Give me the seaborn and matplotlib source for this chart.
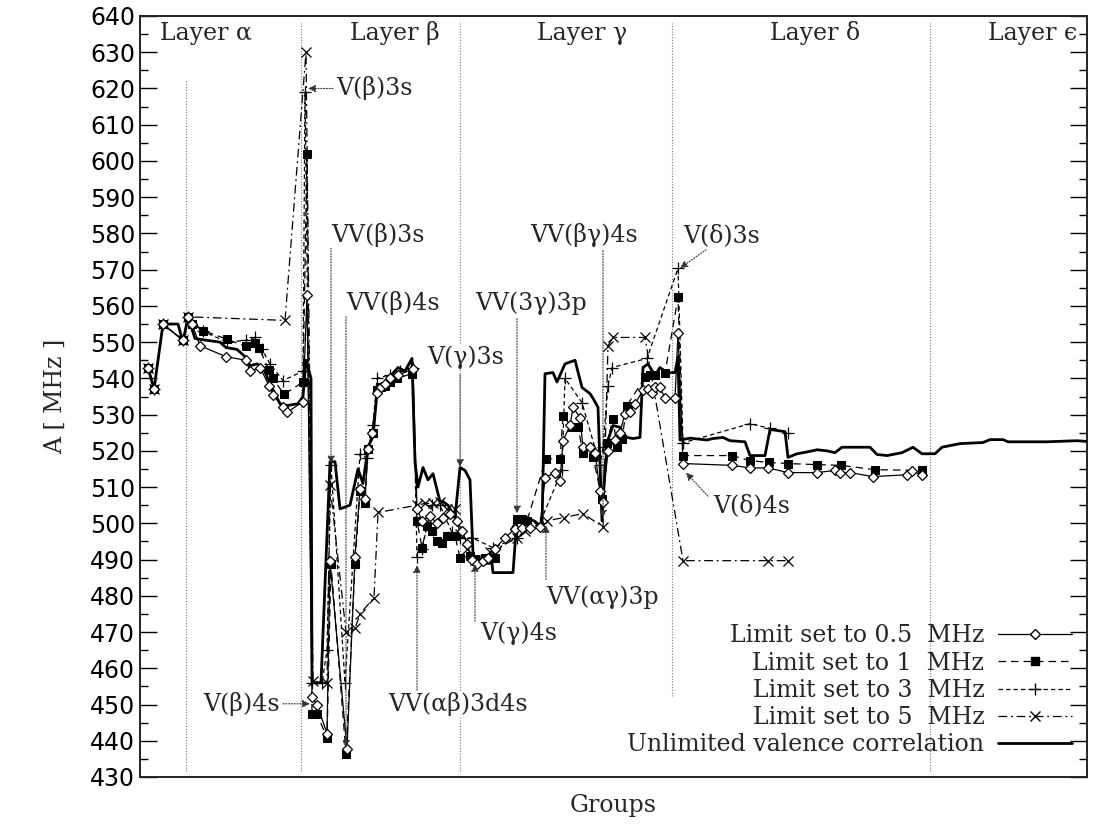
import matplotlib
matplotlib.use("Agg")
import matplotlib.pyplot as plt
from matplotlib.ticker import MultipleLocator
from matplotlib.lines import Line2D
import seaborn as sns

# ---------------- data (group position, hyperfine constant A in MHz) -------------
x_half = [148, 154, 163, 183, 188, 192, 200, 226, 246, 250, 260, 269, 273, 283, 287, 303, 307,
          312, 317, 327, 330, 347, 355, 360, 365, 368, 372, 377, 381, 385, 390, 398, 413,
          417, 422, 430, 437, 443, 450, 457, 462, 467, 472, 477, 483, 488, 495, 505, 515, 522,
          530, 540, 545, 555, 560, 563, 570, 573, 580, 583, 590, 595, 600, 603, 608, 615, 620,
          625, 630, 635, 643, 648, 652, 655, 660, 665, 675, 678, 683, 732, 750, 768, 788, 817,
          835, 840, 850, 873, 907, 912, 922]
y_half = [543, 537, 555, 550.5, 557, 555, 549, 546, 545, 542, 543, 538, 535.5, 532, 530.6, 533.6, 563,
          452, 450, 442, 489.5, 437.7, 490.8, 509.6, 506.8, 520.6, 525, 536, 537.5, 538.5, 540, 541, 542.5,
          504, 500.7, 502, 500, 501.6, 502.7, 500.7, 498, 494.4, 490, 488.9, 489.7, 490.5, 493, 496, 498.5, 498.6,
          498.6, 499, 512.6, 514, 511.8, 522.8, 527, 532, 529.2, 521, 521, 519.5, 509, 506, 520, 523, 525,
          530.3, 530.6, 533, 536.7, 537.2, 536.1, 537.5, 537.5, 534.5, 534.5, 552.4, 516.5, 516, 515.3, 515.3, 514, 514,
          514.6, 514, 514, 512.9, 513.4, 514.5, 513.2]

x_one = [148, 154, 163, 183, 188, 192, 203, 227, 246, 255, 259, 269, 273, 284, 303, 307,
         312, 317, 327, 331, 346, 355, 360, 365, 368, 373, 377, 381, 385, 390, 397, 412,
         417, 422, 427, 432, 437, 442, 447, 455, 460, 470, 475, 485, 495, 517, 522, 527,
         546, 560, 563, 572, 578, 583, 593, 602, 607, 613, 617, 622, 627, 645, 650, 655, 665,
         678, 683, 732, 750, 769, 788, 817, 841, 875, 922]
y_one = [543, 537, 555, 550.5, 557, 555, 553.2, 550.8, 548.8, 549.7, 548.5, 542.2, 540, 535.6, 539, 602,
         447.4, 447.4, 440.8, 488.8, 436.4, 488.8, 509, 505.6, 520.6, 525, 536.7, 537.5, 538, 539, 540, 541.3,
         500.7, 493.3, 499.3, 498, 495, 494.7, 496.6, 496.6, 490.5, 491, 490.2, 490.5, 490.5, 501.3, 501.3, 500.7,
         517.8, 517.8, 529.7, 526.5, 526.5, 519.5, 518.2, 506.8, 522.3, 528.9, 521, 523.4, 532.5, 540.3, 540.8, 540.8, 541.4,
         562.4, 518.7, 518.7, 517.3, 516.8, 516.5, 516.2, 516, 514.8, 514.6]

x_three = [148, 154, 163, 183, 188, 203, 227, 246, 255, 262, 270, 283, 303, 305,
           312, 322, 327, 331, 345, 360, 367, 373, 377, 390, 400, 413,
           417, 422, 432, 440, 452, 460, 472, 493, 517, 540, 562, 565, 582, 600, 603,
           608, 612, 647, 678, 683, 750, 770, 788]
y_three = [543, 537, 555, 550.5, 557, 553, 550, 550.5, 551.3, 548, 544, 539.4, 542, 619,
           456, 456, 465, 516, 456, 519.2, 518, 527, 540, 541, 542, 543,
           490.8, 493, 505, 505, 497.5, 496, 496, 493.3, 496, 500.2, 514.6, 540, 533.3, 516, 521,
           538, 543, 545.5, 570.4, 522.2, 527.5, 526.2, 524.8]

x_five = [148, 154, 163, 183, 188, 285, 306, 313, 327, 330, 346, 355, 360, 374, 378,
          417, 425, 433, 440, 447, 455, 460, 467, 475, 490, 517, 525, 547, 564, 583, 603,
          608, 613, 645, 683, 768, 788]
y_five = [543, 537, 555, 550.5, 557, 556, 630, 456.5, 456, 510.5, 470, 471, 475, 479.5, 503,
          505, 505.5, 505.5, 506, 504, 504, 497, 493, 490, 492, 496, 498, 500.7, 501.6, 502.7, 499,
          549, 551.3, 551.3, 489.7, 489.7, 489.7]

x_full = [148, 154, 163, 178, 183, 188, 195, 207, 220, 226, 237, 245, 250, 257, 263, 270, 280, 287,
          298, 303, 306, 311, 312, 321, 330, 335, 340, 350, 358, 363, 368, 373, 377, 390, 398, 405,
          412, 415, 418, 423, 428, 433, 440, 443, 448, 455, 460, 465, 470, 473, 475, 492, 493, 513,
          517, 527, 535, 542, 545, 553, 557, 565, 575, 582, 590, 593, 598, 602, 605, 608, 613, 620,
          623, 627, 633, 640, 643, 648, 655, 660, 667, 675, 678, 680, 690, 707, 713, 723, 730, 745,
          750, 765, 770, 780, 785, 788, 797, 807, 817, 827, 835, 842, 870, 877, 887, 902, 913, 922,
          935, 942, 960, 983, 990, 1003, 1008, 1047, 1077, 1087]
y_full = [543, 537, 555, 555, 550, 557, 551, 550.5, 550, 548.5, 548, 546, 543.5, 544, 543, 538.5, 533, 532.5,
          533, 535, 545, 540, 456, 456, 517, 517, 504, 505, 515, 511, 521, 524, 536, 540.5, 543, 542,
          545.5, 517, 510, 515.4, 512, 513.7, 506, 506, 505, 501.6, 515.4, 514.6, 512, 491.6, 488.9, 489, 486.4, 486.4,
          501.6, 501.6, 500.5, 498.8, 541.3, 541.6, 539, 544, 545, 537.5, 535.8, 534.5, 532, 500.7, 515.4, 523, 527, 526.5,
          525, 523.7, 523.4, 523.7, 543, 544, 540.8, 543, 541.6, 541.6, 546, 523, 523.5, 523, 523.4, 523.7, 522.8, 522.5,
          518.7, 518.7, 525.9, 525.5, 525.3, 518.2, 519.2, 519.7, 520.3, 520, 519.5, 521, 521, 519, 518.7, 519.5, 521, 519.2,
          519.2, 521, 522, 522.3, 523.1, 523.1, 522.5, 522.5, 522.8, 522.6]

labels = ["Limit set to 0.5  MHz", "Limit set to 1  MHz", "Limit set to 3  MHz",
          "Limit set to 5  MHz", "Unlimited valence correlation"]
layer_names = ["Layer \u03b1", "Layer \u03b2", "Layer \u03b3", "Layer \u03b4", "Layer \u03f5"]
layer_label_x = [160, 350, 537, 770, 1077]
layer_label_ha = ["left", "left", "left", "left", "right"]
layer_bounds = [186, 301, 460, 672, 930]
layer_bound_low = [431.7, 431.7, 431.7, 452.4, 431.7]
layer_bound_high = [622, 638, 638, 638, 638]

# annotations: text, text position, arrow tail, arrow head
ann_text = ["V(\u03b2)3s", "V(\u03b2)4s", "VV(\u03b2)3s", "VV(\u03b2)4s", "V(\u03b3)3s",
            "VV(3\u03b3)3p", "VV(\u03b2\u03b3)4s", "V(\u03b4)3s", "V(\u03b4)4s",
            "VV(\u03b1\u03b2)3d4s", "V(\u03b3)4s", "VV(\u03b1\u03b3)3p"]
ann_xy_text = [(336, 620.1), (280, 450.2), (331, 579.5), (346, 560.7), (427, 545.8),
               (475, 560.7), (530, 579.5), (683, 579.5), (713, 504.9),
               (388, 450.2), (480, 469.8), (546, 479.5)]
ann_ha = ["left", "right", "left", "left", "left", "left", "left", "left", "left", "left", "left", "left"]
ann_tail = [(333, 620), (283, 450.2), (331, 576), (346, 557), (460, 541),
            (517, 556.5), (603, 575.3), (706, 575.5), (708, 507.5),
            (417, 454), (475, 473), (546, 484.5)]
ann_head = [(308, 620), (310, 450.2), (331, 516.5), (346, 438), (460, 515.5),
            (517, 502.7), (603, 501.5), (680, 570.4), (686, 514),
            (417, 488.5), (475, 488.8), (546, 499.5)]

# ---------------- figure -------------
sns.set_style("ticks")
plt.rcParams["font.family"] = ["DejaVu Serif", "DejaVu Sans"]
plt.rcParams["mathtext.fontset"] = "dejavuserif"

fig = plt.figure(figsize=(11.1, 8.26), dpi=100)
ax = fig.add_axes([140 / 1110, 1 - 777 / 826, (1087 - 140) / 1110, (777 - 16) / 826])

common = dict(ax=ax, estimator=None, sort=False, color="black", legend=False)
sns.lineplot(x=x_full, y=y_full, lw=2.0, zorder=3, **common)
sns.lineplot(x=x_five, y=y_five, lw=0.9, linestyle=(0, (7, 3, 1.5, 3)), marker="x",
             markersize=6.5, markeredgewidth=0.9, markeredgecolor="black", zorder=4, **common)
sns.lineplot(x=x_three, y=y_three, lw=0.9, linestyle=(0, (3.5, 2.5)), marker="+",
             markersize=9, markeredgewidth=0.9, markeredgecolor="black", zorder=5, **common)
sns.lineplot(x=x_one, y=y_one, lw=0.9, linestyle=(0, (6, 4)), marker="s",
             markersize=6, markerfacecolor="black", markeredgecolor="black", zorder=6, **common)
sns.lineplot(x=x_half, y=y_half, lw=0.9, marker="D", markersize=5.5,
             markerfacecolor="white", markeredgecolor="black", markeredgewidth=0.9, zorder=7, **common)

ax.set_xlim(140, 1087)
ax.set_ylim(430, 640)
ax.yaxis.set_major_locator(MultipleLocator(10))
ax.yaxis.set_minor_locator(MultipleLocator(5))
ax.set_xticks([])
ax.tick_params(axis="y", which="both", direction="in", left=True, right=True, width=1.0,
               labelsize=17, colors="black")
ax.tick_params(axis="y", which="major", length=12)
ax.tick_params(axis="y", which="minor", length=6)
for lab in ax.get_yticklabels():
    lab.set_family(["DejaVu Sans"])
for s in ax.spines.values():
    s.set_linewidth(1.4)
    s.set_color("#222222")
    s.set_visible(True)

ax.set_xlabel("Groups", fontsize=17, labelpad=12)
ax.set_ylabel("A [ MHz ]", fontsize=17, labelpad=16)

# layer boundaries and names
for xb, lo, hi in zip(layer_bounds, layer_bound_low, layer_bound_high):
    ax.plot([xb, xb], [lo, hi], linestyle=(0, (1, 1.5)), color="#777777", lw=0.8, zorder=1)
for name, xl, ha in zip(layer_names, layer_label_x, layer_label_ha):
    ax.text(xl, 635.3, name, fontsize=17, ha=ha, va="center", zorder=10)

# annotations
for t, pt, ha, tail, head in zip(ann_text, ann_xy_text, ann_ha, ann_tail, ann_head):
    ax.text(pt[0], pt[1], t, fontsize=17, ha=ha, va="center", zorder=10,
            bbox=dict(facecolor="white", edgecolor="none", pad=0.5))
    ax.annotate("", xy=head, xytext=tail,
                arrowprops=dict(arrowstyle="-|>", linestyle=(0, (1, 1.5)), color="#333333",
                                lw=0.8, mutation_scale=11, shrinkA=0, shrinkB=0), zorder=9)

# legend
handles = [
    Line2D([], [], color="black", lw=0.9, marker="D", markersize=5.5, markerfacecolor="white",
           markeredgecolor="black"),
    Line2D([], [], color="black", lw=0.9, linestyle=(0, (6, 4)), marker="s", markersize=6,
           markerfacecolor="black"),
    Line2D([], [], color="black", lw=0.9, linestyle=(0, (3.5, 2.5)), marker="+", markersize=9),
    Line2D([], [], color="black", lw=0.9, linestyle=(0, (7, 3, 1.5, 3)), marker="x", markersize=6.5),
    Line2D([], [], color="black", lw=2.0),
]
leg = ax.legend(handles, labels, loc="lower right", bbox_to_anchor=(1.0, 0.007),
                frameon=False, markerfirst=False,
                fontsize=17, handlelength=3.1, labelspacing=0.18, borderaxespad=0.25,
                handletextpad=0.6)

fig.savefig("out.png", dpi=100)
